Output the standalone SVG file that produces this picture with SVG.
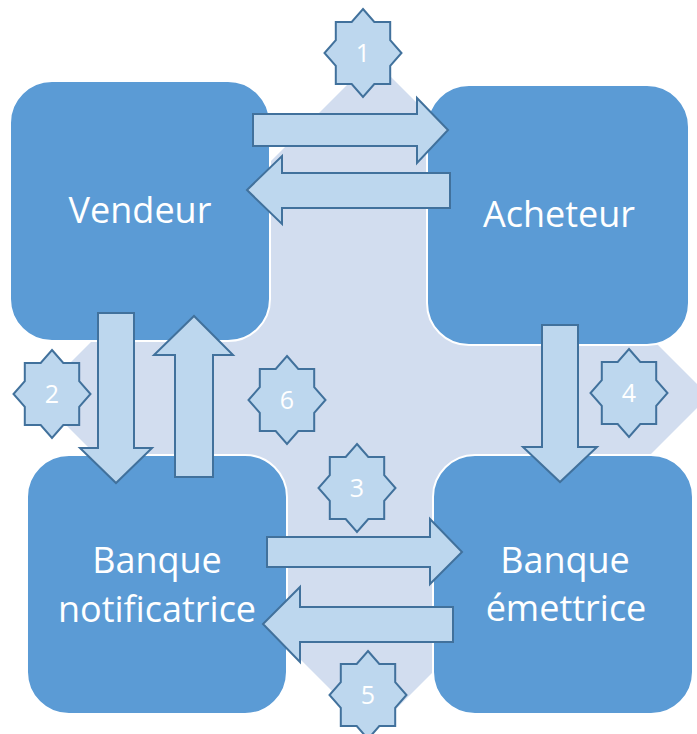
<svg xmlns="http://www.w3.org/2000/svg" width="697" height="734" viewBox="0 0 697 734">
<style>
.bg{fill:#D2DDEF;stroke:none}
.box{fill:#5B9BD5;stroke:#FFFFFF;stroke-width:2}
.lbl{font-family:"Open Sans","Noto Sans","Liberation Sans",sans-serif;font-size:36px;fill:#FFFFFF;text-anchor:middle}
.arr{fill:#BDD7EE;stroke:#41719C;stroke-width:2;stroke-linejoin:miter}
.star{fill:#BDD7EE;stroke:#41719C;stroke-width:2}
.num{font-family:"Open Sans","Noto Sans","Liberation Sans",sans-serif;font-size:25px;fill:#FFFFFF;text-anchor:middle}
</style>
<defs>
<polygon id="star8" points="0,-44 11.3,-31.1 27.2,-31.1 27.2,-12.9 38.5,0 27.2,12.9 27.2,31.1 11.3,31.1 0,44 -11.3,31.1 -27.2,31.1 -27.2,12.9 -38.5,0 -27.2,-12.9 -27.2,-31.1 -11.3,-31.1"/>
</defs>
<rect width="697" height="734" fill="#FFFFFF"/>
<g id="background">
<polygon class="bg" points="373,59 493,179 493,276 589,276 709,396 589,516 493,516 493,612 373,732 253,612 253,516 157,516 37,396 157,276 253,276 253,179"/>
</g>
<g id="vendeur">
<rect class="box" x="10" y="81" width="260" height="260" rx="42" ry="42"/>
<text class="lbl" x="140" y="223">Vendeur</text>
</g>
<g id="acheteur">
<rect class="box" x="427" y="85" width="262" height="260" rx="42" ry="42"/>
<text class="lbl" x="559" y="227">Acheteur</text>
</g>
<g id="banque-notificatrice">
<rect class="box" x="27" y="455" width="260" height="259" rx="42" ry="42"/>
<text class="lbl" x="157" y="573">Banque</text>
<text class="lbl" x="157" y="622">notificatrice</text>
</g>
<g id="banque-emettrice">
<rect class="box" x="433" y="455" width="260" height="259" rx="42" ry="42"/>
<text class="lbl" x="565" y="573">Banque</text>
<text class="lbl" x="566" y="621">émettrice</text>
</g>
<g id="connectors">
<polygon class="arr" points="253,114 417,114 417,98 448,130 417,163 417,146 253,146"/>
<polygon class="arr" points="450,173 282,173 282,156 247,190 282,224 282,208 450,208"/>
<polygon class="arr" points="98,313 134,313 134,448 152,448 116,483 80,448 98,448"/>
<polygon class="arr" points="175,477 175,355 154,355 194,316 233,355 213,355 213,477"/>
<polygon class="arr" points="542,325 578,325 578,447 597,447 560,482 523,447 542,447"/>
<polygon class="arr" points="267,537 430,537 430,519 462,552 430,584 430,567 267,567"/>
<polygon class="arr" points="453,607 300,607 300,587 263,624 300,662 300,642 453,642"/>
</g>
<g id="step1"><use href="#star8" class="star" x="363" y="53"/><text class="num" x="363" y="62">1</text></g>
<g id="step2"><use href="#star8" class="star" x="52" y="394"/><text class="num" x="52" y="403">2</text></g>
<g id="step3"><use href="#star8" class="star" x="357" y="488"/><text class="num" x="357" y="497">3</text></g>
<g id="step4"><use href="#star8" class="star" x="629" y="393"/><text class="num" x="629" y="402">4</text></g>
<g id="step5"><use href="#star8" class="star" x="368" y="695"/><text class="num" x="368" y="704">5</text></g>
<g id="step6"><use href="#star8" class="star" x="287" y="400"/><text class="num" x="287" y="409">6</text></g>
</svg>
